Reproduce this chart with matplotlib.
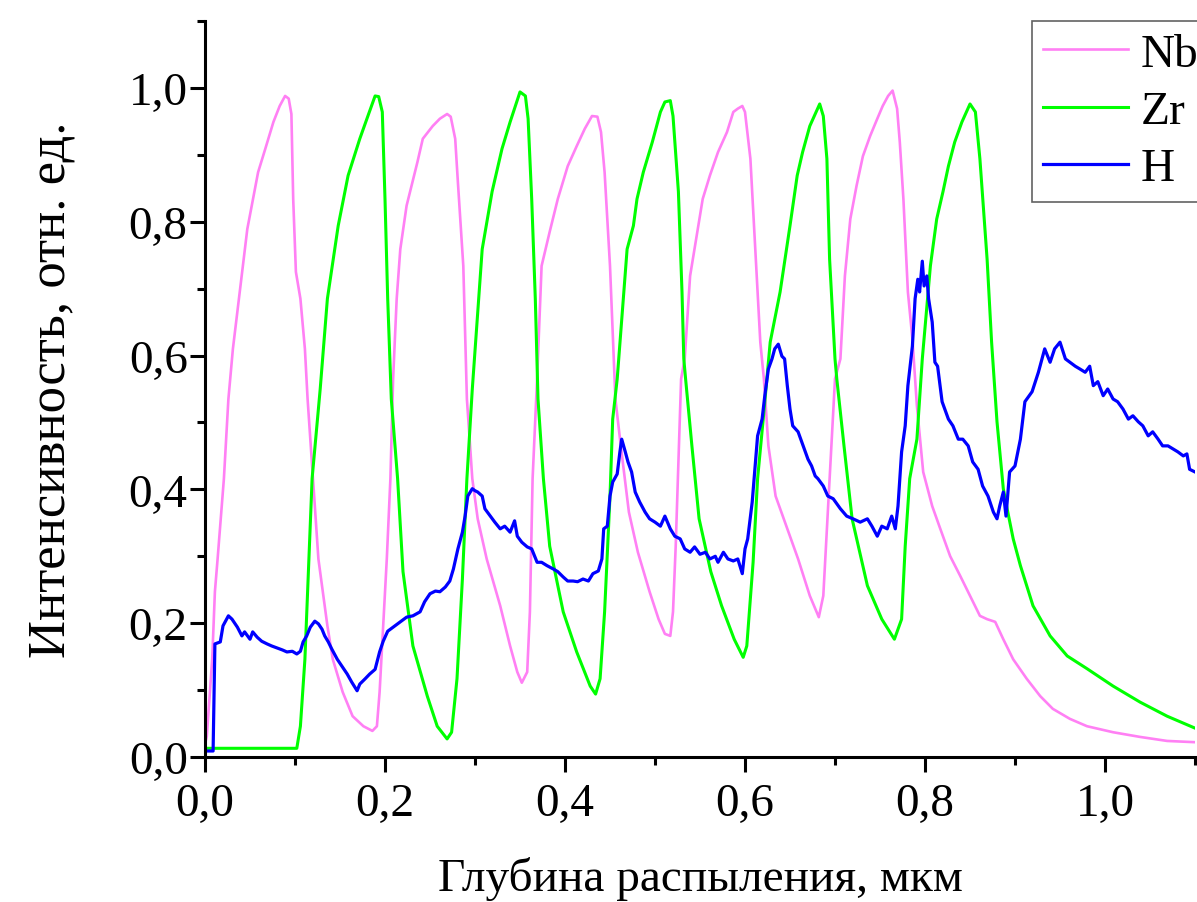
import matplotlib
matplotlib.use("Agg")
import matplotlib.pyplot as plt
from matplotlib.ticker import FixedLocator, FuncFormatter

# depth profile data, depth in um, intensity in rel. units
nb_x = [0.000, 0.002, 0.008, 0.011, 0.014, 0.021, 0.026, 0.031, 0.039, 0.047,
        0.059, 0.067, 0.076, 0.083, 0.089, 0.093, 0.096, 0.098, 0.101, 0.106,
        0.111, 0.114, 0.120, 0.126, 0.136, 0.142, 0.153, 0.164, 0.176, 0.186,
        0.191, 0.194, 0.198, 0.202, 0.206, 0.209, 0.213, 0.217, 0.224, 0.236,
        0.242, 0.253, 0.261, 0.269, 0.273, 0.278, 0.281, 0.287, 0.291, 0.297,
        0.303, 0.313, 0.328, 0.339, 0.347, 0.352, 0.358, 0.361, 0.364, 0.369,
        0.374, 0.383, 0.392, 0.403, 0.413, 0.422, 0.430, 0.436, 0.440, 0.444,
        0.450, 0.456, 0.462, 0.471, 0.481, 0.494, 0.504, 0.511, 0.517, 0.520,
        0.523, 0.526, 0.529, 0.533, 0.539, 0.547, 0.553, 0.561, 0.570, 0.580,
        0.587, 0.592, 0.597, 0.600, 0.606, 0.611, 0.617, 0.621, 0.626, 0.634,
        0.647, 0.659, 0.672, 0.682, 0.687, 0.691, 0.696, 0.700, 0.706, 0.711,
        0.717, 0.724, 0.731, 0.739, 0.747, 0.753, 0.759, 0.764, 0.769, 0.772,
        0.776, 0.781, 0.786, 0.791, 0.798, 0.808, 0.817, 0.828, 0.839, 0.850,
        0.861, 0.869, 0.878, 0.887, 0.898, 0.913, 0.928, 0.942, 0.961, 0.980,
        1.009, 1.039, 1.069, 1.102]
nb_y = [0.019, 0.031, 0.146, 0.247, 0.296, 0.416, 0.535, 0.610, 0.700, 0.789,
        0.874, 0.909, 0.949, 0.973, 0.988, 0.984, 0.961, 0.834, 0.725, 0.685,
        0.610, 0.535, 0.416, 0.296, 0.196, 0.146, 0.097, 0.061, 0.046, 0.039,
        0.046, 0.097, 0.196, 0.296, 0.416, 0.565, 0.685, 0.759, 0.824, 0.889,
        0.924, 0.943, 0.954, 0.961, 0.957, 0.924, 0.859, 0.734, 0.535, 0.416,
        0.356, 0.296, 0.226, 0.166, 0.127, 0.111, 0.127, 0.217, 0.416, 0.565,
        0.734, 0.785, 0.834, 0.883, 0.913, 0.939, 0.958, 0.957, 0.934, 0.874,
        0.734, 0.535, 0.465, 0.366, 0.306, 0.247, 0.206, 0.184, 0.181, 0.217,
        0.315, 0.441, 0.565, 0.595, 0.719, 0.785, 0.834, 0.869, 0.904, 0.934,
        0.964, 0.969, 0.973, 0.964, 0.894, 0.770, 0.620, 0.565, 0.465, 0.390,
        0.341, 0.296, 0.241, 0.209, 0.241, 0.341, 0.465, 0.565, 0.595, 0.719,
        0.804, 0.854, 0.898, 0.928, 0.954, 0.973, 0.988, 0.996, 0.969, 0.919,
        0.834, 0.695, 0.625, 0.525, 0.426, 0.375, 0.341, 0.300, 0.271, 0.241,
        0.211, 0.206, 0.202, 0.176, 0.146, 0.117, 0.091, 0.072, 0.057, 0.046,
        0.037, 0.030, 0.024, 0.022]

zr_x = [0.000, 0.102, 0.106, 0.111, 0.114, 0.119, 0.128, 0.136, 0.148, 0.159,
        0.172, 0.181, 0.189, 0.193, 0.197, 0.200, 0.203, 0.207, 0.214, 0.220,
        0.231, 0.247, 0.258, 0.269, 0.274, 0.280, 0.286, 0.291, 0.297, 0.308,
        0.319, 0.330, 0.339, 0.350, 0.356, 0.359, 0.363, 0.367, 0.370, 0.376,
        0.383, 0.398, 0.413, 0.428, 0.434, 0.439, 0.444, 0.450, 0.453, 0.458,
        0.469, 0.476, 0.480, 0.487, 0.497, 0.506, 0.511, 0.517, 0.520, 0.526,
        0.530, 0.532, 0.534, 0.541, 0.549, 0.562, 0.574, 0.588, 0.598, 0.602,
        0.609, 0.614, 0.621, 0.628, 0.639, 0.650, 0.658, 0.664, 0.672, 0.678,
        0.683, 0.687, 0.691, 0.694, 0.700, 0.702, 0.710, 0.719, 0.736, 0.752,
        0.766, 0.774, 0.778, 0.783, 0.791, 0.797, 0.806, 0.813, 0.820, 0.826,
        0.833, 0.841, 0.850, 0.856, 0.861, 0.869, 0.874, 0.880, 0.887, 0.892,
        0.898, 0.906, 0.920, 0.939, 0.958, 0.980, 1.009, 1.039, 1.069, 1.102]
zr_y = [0.013, 0.013, 0.046, 0.146, 0.247, 0.416, 0.550, 0.685, 0.794, 0.869,
        0.924, 0.958, 0.988, 0.987, 0.964, 0.834, 0.685, 0.535, 0.416, 0.277,
        0.166, 0.091, 0.046, 0.027, 0.037, 0.117, 0.266, 0.416, 0.550, 0.759,
        0.845, 0.909, 0.949, 0.994, 0.988, 0.954, 0.834, 0.685, 0.535, 0.416,
        0.315, 0.217, 0.157, 0.106, 0.094, 0.117, 0.217, 0.390, 0.505, 0.565,
        0.759, 0.794, 0.834, 0.874, 0.919, 0.964, 0.979, 0.981, 0.958, 0.845,
        0.695, 0.595, 0.565, 0.465, 0.356, 0.277, 0.226, 0.176, 0.149, 0.166,
        0.291, 0.416, 0.516, 0.620, 0.695, 0.794, 0.869, 0.904, 0.943, 0.961,
        0.976, 0.958, 0.894, 0.744, 0.595, 0.565, 0.465, 0.356, 0.256, 0.206,
        0.176, 0.206, 0.315, 0.416, 0.475, 0.595, 0.734, 0.804, 0.845, 0.883,
        0.919, 0.949, 0.976, 0.964, 0.894, 0.744, 0.620, 0.501, 0.401, 0.366,
        0.326, 0.286, 0.226, 0.181, 0.151, 0.132, 0.106, 0.082, 0.061, 0.042]

h_x = [0.000, 0.009, 0.011, 0.017, 0.020, 0.026, 0.030, 0.036, 0.041, 0.044,
       0.050, 0.053, 0.058, 0.063, 0.069, 0.074, 0.080, 0.086, 0.091, 0.097,
       0.102, 0.106, 0.109, 0.113, 0.117, 0.122, 0.126, 0.130, 0.133, 0.137,
       0.141, 0.147, 0.152, 0.158, 0.163, 0.169, 0.172, 0.178, 0.183, 0.189,
       0.194, 0.198, 0.203, 0.209, 0.217, 0.224, 0.231, 0.239, 0.244, 0.250,
       0.256, 0.261, 0.267, 0.272, 0.276, 0.281, 0.286, 0.289, 0.292, 0.297,
       0.300, 0.303, 0.308, 0.311, 0.317, 0.322, 0.328, 0.333, 0.339, 0.344,
       0.347, 0.352, 0.358, 0.363, 0.369, 0.374, 0.380, 0.387, 0.392, 0.398,
       0.403, 0.409, 0.414, 0.420, 0.426, 0.431, 0.437, 0.441, 0.443, 0.447,
       0.450, 0.453, 0.458, 0.461, 0.463, 0.467, 0.470, 0.474, 0.478, 0.483,
       0.489, 0.494, 0.500, 0.506, 0.511, 0.517, 0.522, 0.528, 0.533, 0.539,
       0.544, 0.550, 0.556, 0.561, 0.567, 0.570, 0.576, 0.581, 0.587, 0.592,
       0.597, 0.600, 0.603, 0.608, 0.611, 0.614, 0.619, 0.622, 0.626, 0.630,
       0.633, 0.637, 0.641, 0.644, 0.647, 0.650, 0.653, 0.659, 0.663, 0.667,
       0.670, 0.674, 0.678, 0.681, 0.687, 0.692, 0.698, 0.706, 0.713, 0.720,
       0.728, 0.736, 0.741, 0.747, 0.752, 0.758, 0.763, 0.767, 0.770, 0.774,
       0.778, 0.781, 0.786, 0.789, 0.792, 0.794, 0.797, 0.799, 0.802, 0.804,
       0.808, 0.811, 0.814, 0.819, 0.822, 0.826, 0.831, 0.837, 0.842, 0.848,
       0.853, 0.859, 0.864, 0.870, 0.876, 0.880, 0.883, 0.887, 0.890, 0.894,
       0.900, 0.906, 0.911, 0.919, 0.926, 0.933, 0.939, 0.944, 0.950, 0.956,
       0.961, 0.967, 0.972, 0.978, 0.983, 0.987, 0.992, 0.998, 1.003, 1.009,
       1.014, 1.020, 1.026, 1.031, 1.037, 1.042, 1.048, 1.053, 1.059, 1.064,
       1.070, 1.076, 1.081, 1.087, 1.091, 1.094, 1.100]
h_y = [0.009, 0.009, 0.169, 0.172, 0.196, 0.211, 0.206, 0.194, 0.181, 0.187,
       0.176, 0.187, 0.179, 0.173, 0.169, 0.166, 0.163, 0.160, 0.157, 0.158,
       0.154, 0.158, 0.172, 0.181, 0.194, 0.203, 0.199, 0.191, 0.181, 0.172,
       0.161, 0.146, 0.136, 0.124, 0.112, 0.099, 0.109, 0.117, 0.124, 0.131,
       0.157, 0.173, 0.188, 0.194, 0.202, 0.209, 0.211, 0.217, 0.232, 0.244,
       0.248, 0.247, 0.254, 0.263, 0.281, 0.311, 0.336, 0.360, 0.390, 0.401,
       0.398, 0.396, 0.390, 0.371, 0.360, 0.351, 0.341, 0.345, 0.336, 0.353,
       0.330, 0.321, 0.314, 0.311, 0.291, 0.291, 0.286, 0.281, 0.277, 0.269,
       0.263, 0.263, 0.262, 0.266, 0.263, 0.274, 0.278, 0.296, 0.341, 0.345,
       0.390, 0.411, 0.423, 0.456, 0.475, 0.456, 0.441, 0.426, 0.396, 0.381,
       0.366, 0.356, 0.351, 0.345, 0.360, 0.341, 0.330, 0.326, 0.311, 0.306,
       0.314, 0.303, 0.306, 0.296, 0.300, 0.291, 0.306, 0.296, 0.293, 0.296,
       0.274, 0.311, 0.326, 0.381, 0.430, 0.480, 0.505, 0.540, 0.580, 0.595,
       0.610, 0.617, 0.599, 0.595, 0.555, 0.520, 0.495, 0.486, 0.471, 0.456,
       0.445, 0.435, 0.420, 0.416, 0.405, 0.390, 0.386, 0.371, 0.360, 0.356,
       0.351, 0.356, 0.345, 0.330, 0.345, 0.341, 0.360, 0.341, 0.375, 0.456,
       0.495, 0.555, 0.614, 0.685, 0.714, 0.695, 0.741, 0.704, 0.719, 0.685,
       0.650, 0.590, 0.584, 0.531, 0.520, 0.505, 0.495, 0.475, 0.475, 0.465,
       0.441, 0.430, 0.405, 0.390, 0.366, 0.356, 0.375, 0.396, 0.360, 0.426,
       0.435, 0.475, 0.531, 0.546, 0.575, 0.610, 0.590, 0.610, 0.620, 0.595,
       0.590, 0.584, 0.580, 0.575, 0.584, 0.555, 0.561, 0.540, 0.550, 0.535,
       0.531, 0.520, 0.505, 0.510, 0.501, 0.495, 0.480, 0.486, 0.475, 0.465,
       0.465, 0.460, 0.456, 0.450, 0.453, 0.430, 0.426]

x_ticks = [0.0, 0.2, 0.4, 0.6, 0.8, 1.0]
y_ticks = [0.0, 0.2, 0.4, 0.6, 0.8, 1.0]
minor_ticks = [0.1, 0.3, 0.5, 0.7, 0.9, 1.1]

plt.rcParams['font.family'] = ['Liberation Serif', 'DejaVu Serif']
plt.rcParams['font.size'] = 34

fig = plt.figure(figsize=(11.97, 9.03), dpi=100)
ax = fig.add_axes([205 / 1197, 145 / 903, 990 / 1197, 736 / 903])

ax.plot(nb_x, nb_y, color='#ff80f4', lw=1.9, label='Nb')
ax.plot(zr_x, zr_y, color='#00ff00', lw=2.2, label='Zr')
ax.plot(h_x, h_y, color='#0000ff', lw=2.3, label='H')

ax.set_xlim(0, 1.1)
ax.set_ylim(0, 1.1)

# comma as decimal separator
comma = FuncFormatter(lambda v, pos: f"{v:.1f}".replace('.', ','))
ax.xaxis.set_major_locator(FixedLocator(x_ticks))
ax.yaxis.set_major_locator(FixedLocator(y_ticks))
ax.xaxis.set_minor_locator(FixedLocator(minor_ticks))
ax.yaxis.set_minor_locator(FixedLocator(minor_ticks))
ax.xaxis.set_major_formatter(comma)
ax.yaxis.set_major_formatter(comma)

for side in ['top', 'right']:
    ax.spines[side].set_visible(False)
for side in ['left', 'bottom']:
    ax.spines[side].set_linewidth(2.2)

ax.tick_params(which='major', direction='out', length=10.5, width=2.2)
ax.tick_params(which='minor', direction='out', length=5.5, width=2.2)
ax.tick_params(axis='x', which='major', pad=8)
ax.tick_params(axis='y', which='major', pad=2)

ax.set_xlabel('Глубина распыления, мкм')
ax.set_ylabel('Интенсивность, отн. ед.', fontsize=38)
ax.xaxis.set_label_coords(0.5, -0.135)
ax.yaxis.set_label_coords(-0.131, 0.5)

leg = ax.legend(loc='upper left', bbox_to_anchor=(0.835, 1.0), borderaxespad=0,
                frameon=True, fancybox=False, handlelength=1.8, handletextpad=0.25,
                borderpad=0.25, labelspacing=0.3)
leg.get_frame().set_edgecolor('#3a3a3a')
leg.get_frame().set_linewidth(1.2)

fig.savefig('out.png', dpi=100)
